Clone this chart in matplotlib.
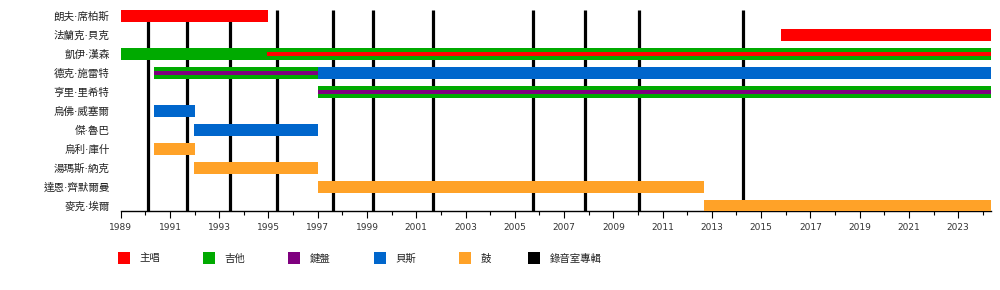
import matplotlib
matplotlib.use("Agg")
import matplotlib.pyplot as plt
from matplotlib.patches import Rectangle

plt.rcParams['font.family'] = ['DejaVu Sans', 'Noto Sans CJK TC']

members = ["朗夫·席柏斯", "法蘭克·貝克", "凱伊·漢森", "德克·施雷特", "亨里·里希特",
           "烏佛·威塞爾", "傑·魯巴", "烏利·庫什", "湯瑪斯·納克", "達恩·齊默爾曼", "麥克·埃爾"]

END = 2024.32

# (member, start, end)
vocals = [("朗夫·席柏斯", 1989.0, 1995.0), ("法蘭克·貝克", 2015.81, END)]
guitar = [("凱伊·漢森", 1989.0, END), ("德克·施雷特", 1990.35, 1997.0),
          ("亨里·里希特", 1997.0, END)]
bass = [("德克·施雷特", 1997.0, END), ("烏佛·威塞爾", 1990.35, 1992.0),
        ("傑·魯巴", 1991.96, 1997.0)]
drums = [("烏利·庫什", 1990.35, 1992.0), ("湯瑪斯·納克", 1991.96, 1997.0),
         ("達恩·齊默爾曼", 1997.0, 2012.68), ("麥克·埃爾", 2012.68, END)]
# secondary roles drawn as thin stripes
vocals_stripe = [("凱伊·漢森", 1994.93, END)]
keys_stripe = [("德克·施雷特", 1990.35, 1997.0), ("亨里·里希特", 1997.0, END)]

albums = [1990.12, 1991.70, 1993.44, 1995.33, 1997.61, 1999.23, 2001.67,
          2005.73, 2007.86, 2010.03, 2014.25]

legend_labels = ["主唱", "吉他", "鍵盤", "貝斯", "鼓", "錄音室專輯"]
colors = {"vocals": "#ff0000", "guitar": "#00aa00", "keys": "#7f007f",
          "bass": "#0066cc", "drums": "#ffa228", "album": "#000000"}

fig = plt.figure(figsize=(10, 2.9), dpi=100)
ax = fig.add_axes([0.1207, 0.2724, 0.870, 0.6931])

row = {m: i for i, m in enumerate(members)}
bar_h = 0.63
stripe_h = 0.21

def draw(spans, color, h):
    for m, s, e in spans:
        ax.barh(row[m], e - s, left=s, height=h, color=color, linewidth=0, zorder=3)

draw(vocals, colors["vocals"], bar_h)
draw(guitar, colors["guitar"], bar_h)
draw(bass, colors["bass"], bar_h)
draw(drums, colors["drums"], bar_h)
draw(vocals_stripe, colors["vocals"], stripe_h)
draw(keys_stripe, colors["keys"], stripe_h)

ax.vlines(albums, -0.32, 10.26, color="black", linewidth=2.3, zorder=1)

ax.set_xlim(1989, END)
ax.set_ylim(10.26, -0.316)
ax.set_yticks(range(len(members)))
ax.set_yticklabels(members, fontsize=7.6, color="#222222")
ax.tick_params(axis="y", length=0, pad=8)
ax.set_xticks(range(1989, 2025, 2))
ax.set_xticks(range(1990, 2025, 2), minor=True)
ax.set_xticklabels([str(y) for y in range(1989, 2025, 2)], fontsize=6.5,
                   color="#333333")
ax.tick_params(axis="x", which="major", length=5, width=0.8, pad=3.5)
ax.tick_params(axis="x", which="minor", length=3, width=0.8)
for s in ["left", "right", "top"]:
    ax.spines[s].set_visible(False)
ax.spines["bottom"].set_linewidth(1)

leg_colors = [colors[k] for k in ["vocals", "guitar", "keys", "bass", "drums", "album"]]
leg_x = [118.3, 203.3, 288.3, 374, 459.3, 528.3]
for x, c, lab in zip(leg_x, leg_colors, legend_labels):
    fig.add_artist(Rectangle((x / 1000, 1 - 264.3 / 290), 12 / 1000, 12 / 290,
                             transform=fig.transFigure, color=c, linewidth=0))
    fig.text((x + 21.2) / 1000, 1 - 258.5 / 290, lab, fontsize=7.5,
             color="#222222", va="center", ha="left")

fig.savefig("out.png", dpi=100)
